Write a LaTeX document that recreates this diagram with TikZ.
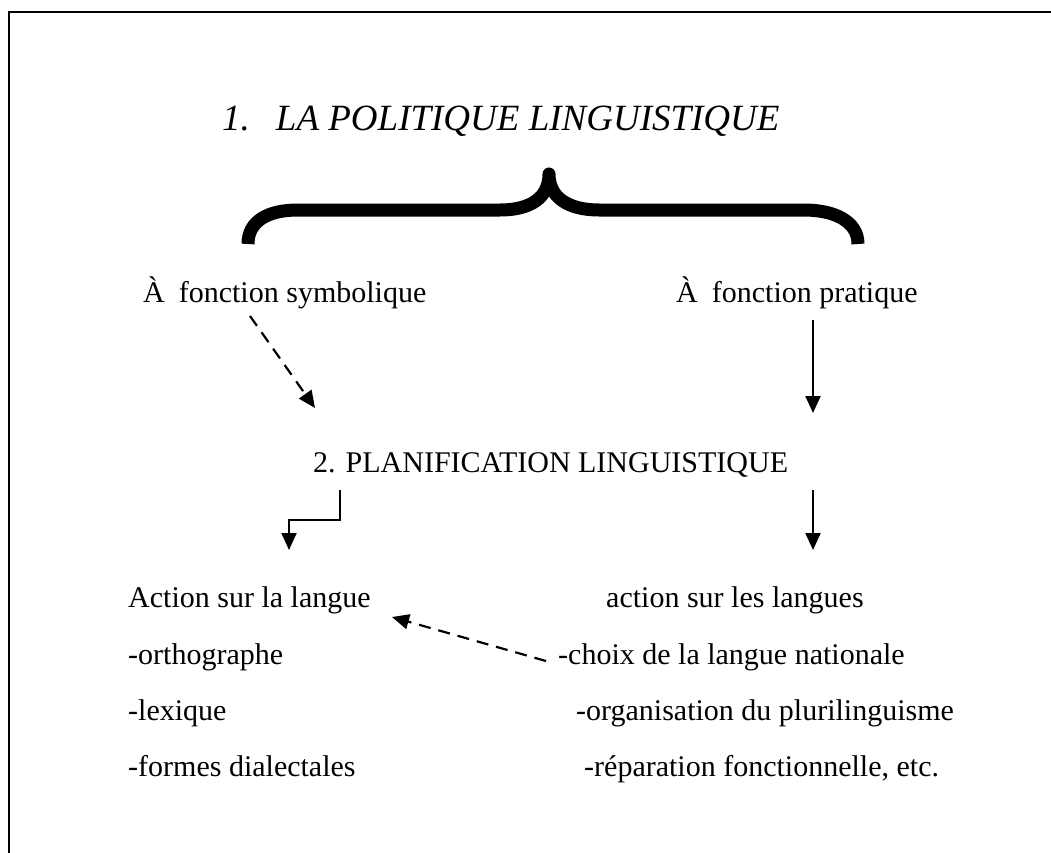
\documentclass[tikz,border=0pt]{standalone}
\usepackage{fontspec}
\setmainfont{Liberation Serif}
\usetikzlibrary{arrows.meta}
\begin{document}
\begin{tikzpicture}[x=1pt,y=-1pt,
  lbl/.style={anchor=base west,inner sep=0pt,font=\fontsize{30}{35}\selectfont},
  ilbl/.style={anchor=base west,inner sep=0pt,font=\itshape\fontsize{37}{42}\selectfont},
  conn/.style={line width=2.2pt,-{Triangle[width=15pt,length=17pt]}},
  dconn/.style={conn,dash pattern=on 12pt off 8pt},
  framestyle/.style={line width=2.4pt},
  bracestyle/.style={line width=13pt,line join=round,line cap=butt}]
\useasboundingbox (0,0) rectangle (1051,853);
\draw[framestyle] (9,853) -- (9,12) -- (1051,12);
% title
\node[ilbl] (title) at (222,131) {1.\hspace{26pt}LA POLITIQUE LINGUISTIQUE};
% brace
\draw[bracestyle] (248,244) .. controls (248,221) and (268,210) .. (298,210)
  -- (500,210) .. controls (530,210) and (549,198) .. (549,174)
  .. controls (549,198) and (569,210) .. (599,210)
  -- (804,210) .. controls (834,210) and (858,221) .. (858,244);
% level 1
\node[lbl] (sym) at (143,302) {À\hspace{14pt}fonction symbolique};
\node[lbl] (prat) at (676,302) {À\hspace{14pt}fonction pratique};
% level 2
\node[lbl] (plan) at (313,472) {2. PLANIFICATION LINGUISTIQUE};
% level 3
\node[lbl] (act1) at (128,607) {Action sur la langue};
\node[lbl] (act2) at (606,607) {action sur les langues};
\node[lbl] (l1) at (128,664) {-orthographe};
\node[lbl] (l2) at (128,720) {-lexique};
\node[lbl] (l3) at (128,776) {-formes dialectales};
\node[lbl] (r1) at (558,664) {-choix de la langue nationale};
\node[lbl] (r2) at (576,720) {-organisation du plurilinguisme};
\node[lbl] (r3) at (584,776) {-réparation fonctionnelle, etc.};
% connector end points
\coordinate (symS) at (250,316);
\coordinate (symE) at (315,408);
\coordinate (pratS) at (813,320);
\coordinate (pratE) at (813,413);
\coordinate (planL) at (340,490);
\coordinate (elbowA) at (340,520);
\coordinate (elbowB) at (289,520);
\coordinate (act1T) at (289,550);
\coordinate (planR) at (813,490);
\coordinate (act2T) at (813,550);
\coordinate (r1W) at (546,661);
\coordinate (act1E) at (392,617);
% connectors
\draw[dconn] (symS) -- (symE);
\draw[conn] (pratS) -- (pratE);
\draw[conn] (planL) -- (elbowA) -- (elbowB) -- (act1T);
\draw[conn] (planR) -- (act2T);
\draw[dconn] (r1W) -- (act1E);
\end{tikzpicture}
\end{document}
